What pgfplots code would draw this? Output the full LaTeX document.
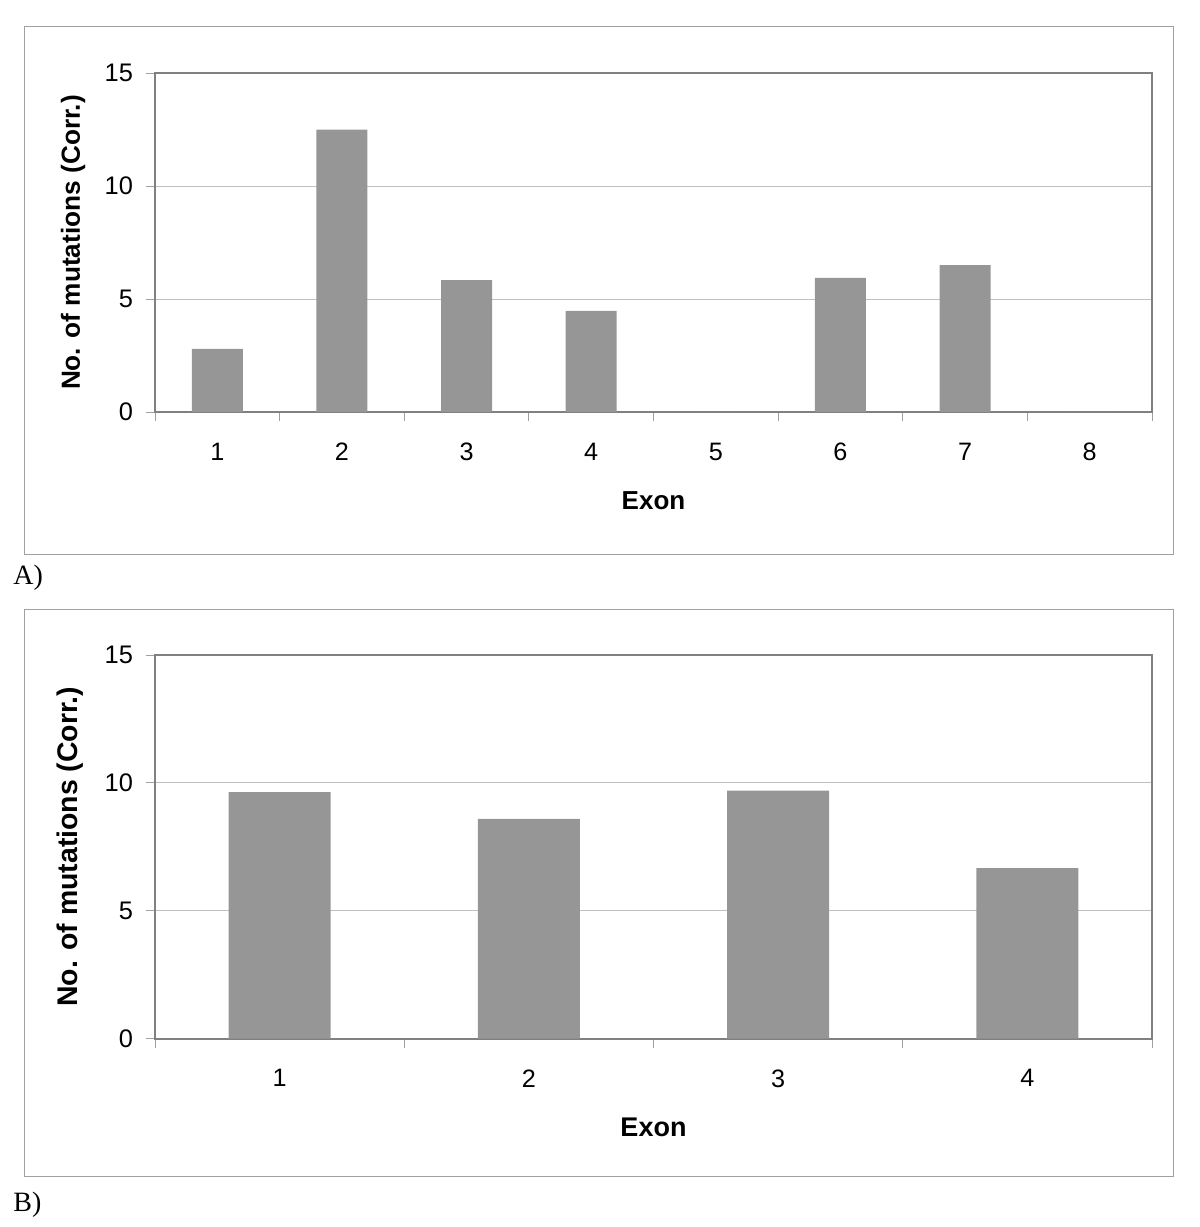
\documentclass[border=0pt]{standalone}
\usepackage{fontspec}
\setmainfont{Liberation Sans}
\newfontfamily\seriffont{Liberation Serif}
\usepackage{pgfplots}
\pgfplotsset{compat=1.18}
\definecolor{barg}{RGB}{150,150,150}
\definecolor{axisg}{RGB}{128,128,128}
\definecolor{gridg}{RGB}{192,192,192}
\definecolor{frameg}{RGB}{160,160,160}

\pgfplotsset{
  exonstyle/.style={
    scale only axis,
    width=498.5pt,
    ymin=0, ymax=15,
    ytick={0,5,10,15},
    xmin=0.5,
    axis line style={axisg, line width=1pt},
    tick style={frameg, line width=0.5pt},
    major tick length=4.5pt,
    tick align=outside,
    xtick pos=bottom, ytick pos=left,
    ymajorgrids,
    grid style={gridg, line width=0.5pt},
    x tick label as interval,
    /pgf/number format/assume math mode=true,
    yticklabel style={font=\fontsize{12.7}{14}\selectfont, anchor=east, xshift=-3pt},
    xticklabel style={font=\fontsize{12.6}{14}\selectfont, anchor=north, yshift=-7.5pt},
    xlabel={\textbf{Exon}},
    ylabel={\textbf{No. of mutations (Corr.)}},
  }
}

\begin{document}
\begin{tikzpicture}
\useasboundingbox (0,0) rectangle (600pt,-613.5pt);
% outer frames
\draw[frameg, line width=0.5pt] (12pt,-13pt) rectangle (586.5pt,-277pt);
\draw[frameg, line width=0.5pt] (12pt,-304.5pt) rectangle (586.5pt,-588pt);
\node[anchor=west, inner sep=0pt, font=\seriffont\fontsize{14}{16}\selectfont] at (6.5pt,-289pt) {A)};
\node[anchor=west, inner sep=0pt, font=\seriffont\fontsize{14}{16}\selectfont] at (6.5pt,-602.5pt) {B)};

% panel A
\begin{axis}[
  exonstyle,
  at={(77.5pt,-206pt)}, anchor=south west,
  height=169.5pt,
  xmax=8.5,
  xtick={0.5,1.5,...,8.5},
  xticklabels={1,2,3,4,5,6,7,8},
  xlabel style={at={(axis description cs:0.5,0)}, anchor=center, yshift=-44.5pt, font=\fontsize{13}{15}\selectfont},
  ylabel style={at={(axis description cs:-0.0822,0.5)}, anchor=center, font=\fontsize{13.1}{15}\selectfont},
]
\addplot[ybar, bar width=0.41, fill=barg, draw=none] coordinates {
  (1,2.79) (2,12.5) (3,5.84) (4,4.47) (5,0) (6,5.93) (7,6.5) (8,0)
};
\end{axis}

% panel B
\begin{axis}[
  exonstyle,
  at={(77.5pt,-519.25pt)}, anchor=south west,
  height=191.75pt,
  xmax=4.5,
  xtick={0.5,1.5,...,4.5},
  xticklabels={1,2,3,4},
  xlabel style={at={(axis description cs:0.5,0)}, anchor=center, yshift=-44.25pt, font=\fontsize{13.5}{15}\selectfont},
  ylabel style={at={(axis description cs:-0.0848,0.5)}, anchor=center, font=\fontsize{14.2}{16}\selectfont},
]
\addplot[ybar, bar width=0.41, fill=barg, draw=none] coordinates {
  (1,9.64) (2,8.59) (3,9.70) (4,6.66)
};
\end{axis}
\end{tikzpicture}
\end{document}
